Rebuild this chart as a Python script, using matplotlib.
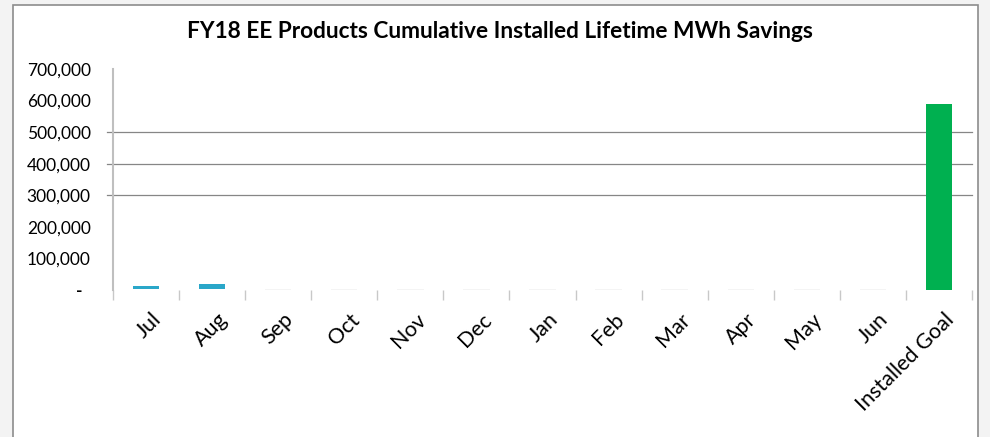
import matplotlib.pyplot as plt
from matplotlib.patches import Rectangle
import matplotlib.transforms as mtransforms
import numpy as np

# Data
months = ["Jul", "Aug", "Sep", "Oct", "Nov", "Dec", "Jan", "Feb", "Mar", "Apr", "May", "Jun", "Installed Goal"]
base = [4000, 3000, 0, 0, 0, 0, 0, 0, 0, 0, 0, 0, 0]          # hidden part of the stacked bar
installed = [7500, 16000, 0, 0, 0, 0, 0, 0, 0, 0, 0, 0, 0]     # visible monthly bar
goal = [0, 0, 0, 0, 0, 0, 0, 0, 0, 0, 0, 0, 590000]
y_ticks = [0, 100000, 200000, 300000, 400000, 500000, 600000, 700000]
y_labels = ["-  ", "100,000", "200,000", "300,000", "400,000", "500,000", "600,000", "700,000"]
grid_levels = [300000, 400000, 500000]

plt.rcParams['font.family'] = ['Lato', 'DejaVu Sans']

W, H = 990, 437
fig = plt.figure(figsize=(W / 100, H / 100), dpi=100)
fig.patch.set_facecolor("#f3f3f3")

# chart frame
frame = Rectangle((13 / W, -0.05), (978 - 13) / W, 1.05 - 5 / H,
                  transform=fig.transFigure, facecolor="white",
                  edgecolor="#8c8c8c", linewidth=1.2, zorder=-5)
fig.add_artist(frame)

ax = fig.add_axes([113 / W, (H - 290) / H, (972 - 113) / W, (290 - 69) / H])
ax.set_facecolor("none")

x = np.arange(len(months))
ax.bar(x, installed, width=0.4, bottom=base, color="#2aa7c9", linewidth=0, zorder=3)
# zero months still leave a faint trace in the original
ax.bar(x[2:12], [3000] * 10, width=0.4, color="#f4f4f4", linewidth=0, zorder=2)
ax.bar(x, goal, width=0.4, color="#00b050", zorder=3)

for g in grid_levels:
    ax.axhline(g, xmin=-0.007, color="#868686", linewidth=0.9, zorder=1, clip_on=False)

ax.set_xlim(-0.5, len(months) - 0.5)
ax.set_ylim(0, 700000)
ax.set_yticks(y_ticks)
ax.set_yticklabels(y_labels, fontsize=12.5)
ax.get_yticklabels()[0].set_fontweight("bold")
ax.tick_params(axis="y", length=0, pad=16)

ax.set_xticks(x)
ax.set_xticklabels(months, rotation=45, ha="right", va="top", rotation_mode="anchor", fontsize=15.5)
ax.set_xticks(np.arange(len(months) + 1) - 0.5, minor=True)
ax.tick_params(axis="x", which="major", length=0, pad=14)
ax.tick_params(axis="x", which="minor", length=7, color="#c8c8c8", width=1)
shift = mtransforms.ScaledTranslation(5 / 100, 0, fig.dpi_scale_trans)
for lbl in ax.get_xticklabels():
    lbl.set_transform(lbl.get_transform() + shift)

for s in ["top", "right", "bottom"]:
    ax.spines[s].set_visible(False)
ax.spines["left"].set_color("#bfbfbf")
ax.spines["left"].set_linewidth(1.5)

fig.text(0.505, 1 - 32 / H, "FY18 EE Products Cumulative Installed Lifetime MWh Savings",
         ha="center", va="center", fontsize=16.3, fontweight="bold")

fig.savefig("out.png", dpi=100, facecolor=fig.get_facecolor())
